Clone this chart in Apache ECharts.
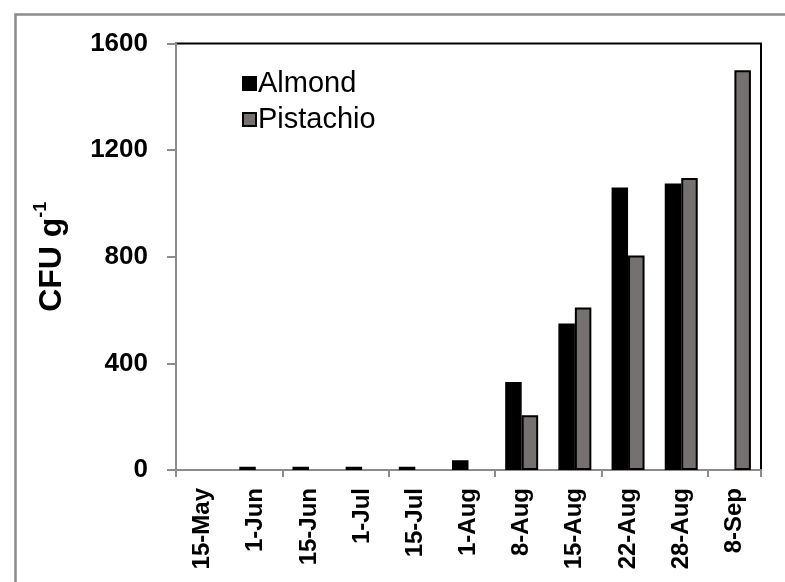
<!DOCTYPE html>
<html>
<head>
<meta charset="utf-8">
<script src="https://cdn.jsdelivr.net/npm/echarts@6/dist/echarts.min.js"></script>
<style>html,body{margin:0;padding:0;background:#fff}#c{width:785px;height:582px}</style>
</head>
<body>
<div id="c"></div>
<script>
const categories = ['15-May','1-Jun','15-Jun','1-Jul','15-Jul','1-Aug','8-Aug','15-Aug','22-Aug','28-Aug','8-Sep'];
const almond = [0, 12, 12, 12, 12, 37, 330, 550, 1060, 1075, 0];
const pistachio = [0, 0, 0, 0, 0, 0, 205, 610, 805, 1095, 1500];
const yTicks = [0, 400, 800, 1200, 1600];

const hideZero = arr => arr.map(v => (v === 0 ? null : v));

const chart = echarts.init(document.getElementById('c'), null, {renderer: 'canvas'});
const axisGrey = '#8c8c8c';
const font = 'Liberation Sans, Arial, sans-serif';
chart.setOption({
  animation: false,
  backgroundColor: '#fff',
  graphic: [{
    type: 'rect', left: 13, top: 12, shape: {width: 820, height: 620},
    style: {fill: 'none', stroke: axisGrey, lineWidth: 2.5}, silent: true, z: -1
  }],
  grid: {left: 176, right: 24, top: 43.5, bottom: 112, show: true, borderColor: '#000', borderWidth: 2, backgroundColor: 'transparent'},
  legend: {
    orient: 'vertical', left: 237, top: 63, itemWidth: 13, itemHeight: 13, itemGap: 5,
    icon: 'rect',
    textStyle: {fontFamily: font, fontSize: 29, color: '#000', lineHeight: 31, padding: [0,0,0,-3]},
    data: ['Almond', 'Pistachio']
  },
  xAxis: {
    type: 'category', data: categories,
    axisLine: {lineStyle: {color: axisGrey, width: 2}},
    axisTick: {show: true, interval: 1, length: 7, lineStyle: {color: axisGrey, width: 2}},
    axisLabel: {interval: 0, rotate: 90, margin: 18, fontFamily: font, fontWeight: 'bold', fontSize: 24, color: '#000'}
  },
  yAxis: {
    type: 'value', min: 0, max: 1600, interval: 400,
    name: '{m|CFU g}{s|-1}', nameLocation: 'middle', nameGap: 108, nameRotate: 90,
    nameTextStyle: {
      rich: {
        m: {fontFamily: font, fontWeight: 'bold', fontSize: 32, color: '#000', lineHeight: 36, verticalAlign: 'bottom'},
        s: {fontFamily: font, fontWeight: 'bold', fontSize: 18, color: '#000', lineHeight: 36, verticalAlign: 'top', padding: [0,0,14,0]}
      }
    },
    splitLine: {show: false},
    axisLine: {show: true, lineStyle: {color: axisGrey, width: 2}},
    axisTick: {show: true, length: 9, lineStyle: {color: axisGrey, width: 2}},
    axisLabel: {margin: 28, fontFamily: font, fontWeight: 'bold', fontSize: 26, color: '#000',
      formatter: v => yTicks.includes(v) ? String(v) : ''}
  },
  series: [
    {name: 'Almond', type: 'bar', data: hideZero(almond), barGap: '0%', barCategoryGap: '38%',
     itemStyle: {color: '#000', borderColor: '#000', borderWidth: 1.5}},
    {name: 'Pistachio', type: 'bar', data: hideZero(pistachio), barGap: '0%', barCategoryGap: '38%',
     itemStyle: {color: '#767171', borderColor: '#000', borderWidth: 2}}
  ]
});
</script>
</body>
</html>
